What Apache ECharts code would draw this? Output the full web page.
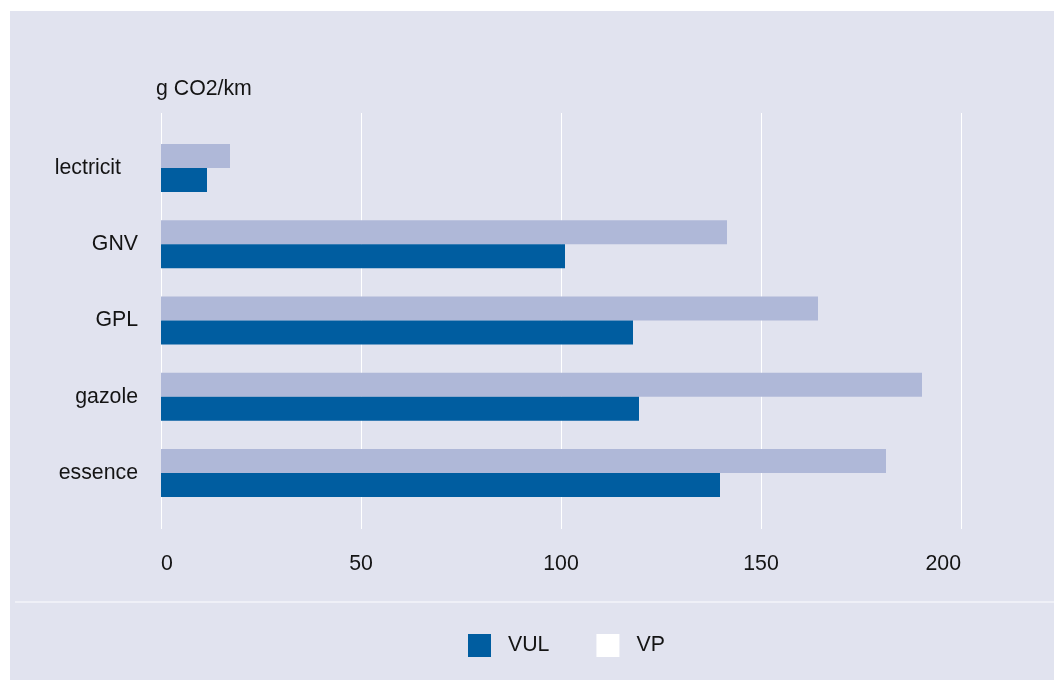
<!DOCTYPE html>
<html>
<head>
<meta charset="utf-8">
<style>
  html, body { margin: 0; padding: 0; background: #ffffff; }
  #chart { width: 1054px; height: 680px; }
</style>
<script src="https://cdn.jsdelivr.net/npm/echarts@6/dist/echarts.min.js"></script>
</head>
<body>
<div id="chart"></div>
<script>
// Fuel types, bottom to top
const categories = ['essence', 'gazole', 'GPL', 'GNV', 'lectricit'];
// Emissions in g CO2/km
const vulValues = [139.75, 119.5, 118, 101, 11.5];
const vpValues = [181.25, 190.25, 164.25, 141.5, 17.25];
const xTicks = { min: 0, max: 200, interval: 50 };
const unitLabel = 'g CO2/km';
const seriesNames = ['VUL', 'VP'];

const FONT = '"Liberation Sans", Arial, sans-serif';
const TEXT = '#141414';
const PANEL = '#e1e3ef';
const DARK = '#005da0';
const LIGHT = '#afb8d8';
const FS = 21.3;

const chart = echarts.init(document.getElementById('chart'), null, { renderer: 'canvas' });

const catData = categories.map(function (c) {
  // the last label sits a little further from the axis
  return c === 'lectricit' ? { value: c, textStyle: { padding: [0, 17, 0, 0] } } : c;
});

chart.setOption({
  backgroundColor: PANEL,
  animation: false,
  textStyle: { fontFamily: FONT },
  title: {
    text: unitLabel,
    left: 156,
    top: 79,
    padding: 0,
    textStyle: { fontFamily: FONT, fontSize: FS, fontWeight: 'normal', color: TEXT }
  },
  legend: {
    left: 468,
    top: 634,
    padding: 0,
    itemWidth: 23,
    itemHeight: 23,
    itemGap: 47,
    icon: 'rect',
    textStyle: { fontFamily: FONT, fontSize: FS, color: TEXT, padding: [0, 0, 0, 12] },
    data: [
      { name: seriesNames[0], itemStyle: { color: DARK } },
      { name: seriesNames[1], itemStyle: { color: '#ffffff' } }
    ]
  },
  grid: [
    // bars
    { left: 161, right: 93, top: 130, bottom: 169, containLabel: false },
    // value scale with gridlines
    { left: 161, right: 93, top: 113, bottom: 151, containLabel: false }
  ],
  xAxis: [
    {
      gridIndex: 0, type: 'value', min: xTicks.min, max: xTicks.max, interval: xTicks.interval,
      show: false
    },
    {
      gridIndex: 1, type: 'value', min: xTicks.min, max: xTicks.max, interval: xTicks.interval,
      axisLine: { show: false },
      axisTick: { show: false },
      splitLine: { show: true, lineStyle: { color: '#ffffff', width: 1 } },
      axisLabel: {
        margin: 25, fontFamily: FONT, fontSize: FS, color: TEXT,
        alignMinLabel: 'left', alignMaxLabel: 'right'
      }
    }
  ],
  yAxis: [
    {
      gridIndex: 0, type: 'category', data: catData,
      axisLine: { show: false },
      axisTick: { show: false },
      splitLine: { show: false },
      axisLabel: { margin: 23, fontFamily: FONT, fontSize: FS, color: TEXT }
    },
    {
      gridIndex: 1, type: 'category', data: categories, show: false
    }
  ],
  series: [
    // VP drawn first so it sits on the upper half of each band
    {
      name: seriesNames[1], type: 'bar', xAxisIndex: 0, yAxisIndex: 0,
      data: vpValues, barWidth: 24, barGap: '0%',
      itemStyle: { color: LIGHT }
    },
    {
      name: seriesNames[0], type: 'bar', xAxisIndex: 0, yAxisIndex: 0,
      data: vulValues, barWidth: 24, barGap: '0%',
      itemStyle: { color: DARK }
    }
  ],
  graphic: [
    // white margin above and to the left of the panel
    { type: 'rect', shape: { x: 0, y: 0, width: 1054, height: 11 }, style: { fill: '#ffffff' }, silent: true },
    { type: 'rect', shape: { x: 0, y: 0, width: 10, height: 680 }, style: { fill: '#ffffff' }, silent: true },
    // divider above the legend
    { type: 'line', shape: { x1: 15, y1: 602, x2: 1054, y2: 602 }, style: { stroke: '#eff0f7', lineWidth: 2 }, silent: true }
  ]
});
</script>
</body>
</html>
